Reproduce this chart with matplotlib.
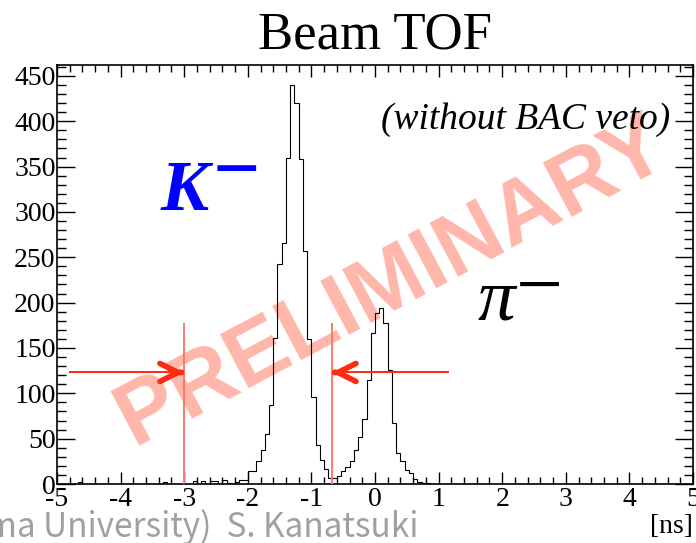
import numpy as np
import matplotlib.pyplot as plt

plt.rcParams['axes.unicode_minus'] = False

# beam TOF histogram, 150 bins of 1/15 ns between -5 and 5 ns
edges = np.linspace(-5, 5, 151)
counts_m5 = [0, 0, 0, 0, 0, 2, 0, 0, 0, 0, 0, 0, 0, 0, 0]
counts_m4 = [0, 0, 0, 0, 0, 0, 0, 0, 0, 0, 2, 0, 0, 0, 0]
counts_m3 = [0, 0, 3, 0, 3, 0, 3, 3, 0, 4, 1, 0, 2, 4, 4]
counts_m2 = [14, 14, 25, 38, 55, 87, 161, 243, 266, 360, 440, 420, 358, 257, 160]
counts_m1 = [96, 43, 26, 16, 7, 7, 9, 14, 19, 25, 38, 52, 72, 115, 166]
counts_p0 = [189, 194, 177, 126, 67, 34, 25, 15, 12, 5, 2, 1, 1, 0, 0]
counts_p1 = [0] * 15
counts_p2 = [0] * 15
counts_p3 = [0] * 15
counts_p4 = [0] * 15
counts = (counts_m5 + counts_m4 + counts_m3 + counts_m2 + counts_m1
          + counts_p0 + counts_p1 + counts_p2 + counts_p3 + counts_p4)

# K selection window and arrows
cut_lo = -3.0
cut_hi = -0.68
cut_top = 177
arrow_y = 123
arrow_left_tail = -4.81
arrow_right_tail = 1.17

xticks = np.arange(-5, 6, 1)
yticks = np.arange(0, 451, 50)

serif = 'Liberation Serif'

fig = plt.figure(figsize=(6.96, 5.43), dpi=100)
ax = fig.add_axes([57/696, 1 - 484/543, 636/696, 419/543])

ax.set_xlim(-5, 5)
ax.set_ylim(0, max(counts) * 1.05)

# watermark under everything
ax.text(0.27, 222, 'PRELIMINARY', family='Liberation Sans', weight='bold',
        fontsize=64, color='#ffb6ab', rotation=28, rotation_mode='anchor',
        ha='center', va='center', zorder=0)

ax.stairs(counts, edges, color='black', lw=0.8, zorder=3)

# cut lines
ax.vlines([cut_lo, cut_hi], 0, cut_top, color='#ff7a66', lw=1.4, zorder=4)
ax.hlines(arrow_y, arrow_left_tail, cut_lo, color='#ff2a10', lw=1.4, zorder=4)
ax.hlines(arrow_y, cut_hi, arrow_right_tail, color='#ff2a10', lw=1.4, zorder=4)
head = dict(arrowstyle='->,head_length=1.3,head_width=0.65', color='#ff2a10',
            lw=4, capstyle='round', joinstyle='round', shrinkA=0, shrinkB=0)
ax.annotate('', xy=(cut_lo, arrow_y), xytext=(cut_lo - 0.05, arrow_y),
            arrowprops=head, zorder=5)
ax.annotate('', xy=(cut_hi, arrow_y), xytext=(cut_hi + 0.05, arrow_y),
            arrowprops=head, zorder=5)

# labels
ax.text(-3.37, 302, 'K', family=serif, style='italic', weight='bold',
        fontsize=52, color='blue', ha='left', va='baseline')
ax.text(-2.56, 318, '\u2212', family=serif, weight='bold',
        fontsize=60, color='blue', ha='left', va='baseline')
ax.text(1.62, 181, '\u03c0', family=serif, style='italic',
        fontsize=54, color='black', ha='left', va='baseline')
ax.text(2.22, 190, '\u2212', family=serif,
        fontsize=60, color='black', ha='left', va='baseline')
ax.text(4.64, 392, '(without BAC veto)', family=serif, style='italic',
        fontsize=27, ha='right', va='baseline')

ax.set_title('Beam TOF', family=serif, fontsize=38, pad=12)

ax.set_xticks(xticks)
ax.set_xticklabels([str(v) for v in xticks])
ax.set_yticks(yticks)
ax.set_xticks(np.arange(-5, 5.01, 0.2), minor=True)
ax.set_yticks(np.arange(0, 461, 10), minor=True)

ax.tick_params(which='both', direction='in', top=True, right=True, width=1)
ax.tick_params(axis='x', which='major', length=8.6, pad=2)
ax.tick_params(axis='x', which='minor', length=5)
ax.tick_params(axis='y', which='major', length=13, pad=1)
ax.tick_params(axis='y', which='minor', length=6.5)
for lab in ax.get_xticklabels() + ax.get_yticklabels():
    lab.set_family(serif)
    lab.set_fontsize(20)
for sp in ax.spines.values():
    sp.set_linewidth(1.2)

fig.text(693/696, 10/543, '[ns]', family=serif, fontsize=20,
         ha='right', va='baseline')
fig.text(418/696, 6/543, '(Hiroshima University)  S. Kanatsuki',
         family='Noto Sans CJK JP', fontsize=24, color='#a0a0a0',
         ha='right', va='baseline')

fig.savefig('out.png', dpi=100)
